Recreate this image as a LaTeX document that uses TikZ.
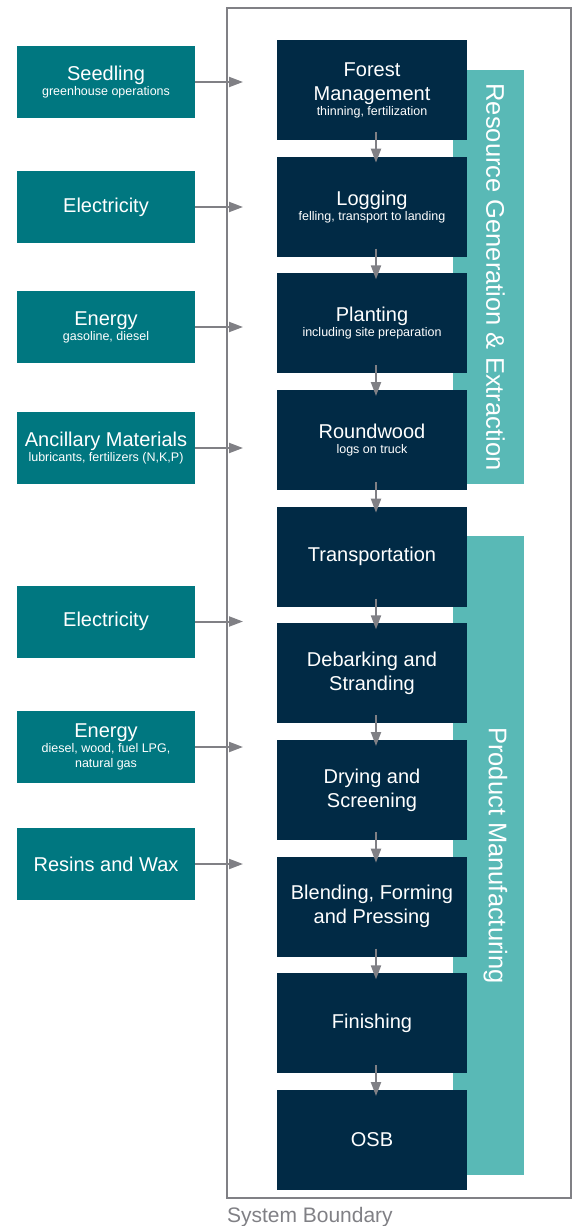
\documentclass[tikz,border=0pt]{standalone}
\usepackage{fontspec}
\setmainfont{Liberation Sans}
\usetikzlibrary{positioning,arrows.meta}

\definecolor{navy}{RGB}{1,42,69}
\definecolor{tealbox}{RGB}{0,119,128}
\definecolor{tealband}{RGB}{89,185,182}
\definecolor{linegray}{RGB}{128,128,133}

\newcommand{\subtxt}[1]{{\fontsize{12.5}{15}\selectfont #1}}

\begin{document}
\begin{tikzpicture}
  [x=1pt, y=-1pt, node distance=16.67pt,
   every node/.style={inner sep=0pt, outer sep=0pt, align=center, text=white,
                      font=\fontsize{20}{24}\selectfont},
   stage/.style={fill=navy, minimum width=190pt, minimum height=100pt},
   input/.style={fill=tealbox, minimum width=178pt, minimum height=72pt},
   band/.style={fill=tealband, minimum width=71pt},
   bandtext/.style={rotate=-90, font=\fontsize{25.5}{30}\selectfont},
   flow/.style={draw=linegray, line width=2pt, -{Triangle[length=14pt,width=10pt]}}]
  \useasboundingbox (0,0) rectangle (576,1226);

  % system boundary
  \node[draw=linegray, line width=2.5pt, minimum width=344pt, minimum height=1190pt] (sysbnd) at (399,603) {};
  \node[anchor=base west, text=linegray, font=\fontsize{21}{25}\selectfont] (sysbndlabel)
    at ([yshift=-24pt]sysbnd.south west) {System Boundary};

  % phase bands
  \node[band, minimum height=414pt] (rgeband) at (488.5,277) {};
  \node[band, minimum height=639pt] (pmband) at (488.5,855.5) {};
  \node[bandtext] (rgetext) at (495.5,277) {Resource Generation \& Extraction};
  \node[bandtext] (pmtext) at (495.5,855.5) {Product Manufacturing};

  % process chain
  \node[stage] (forest) at (372,90) {Forest\\Management\\[-9pt]\subtxt{thinning, fertilization}};
  \node[stage, below=of forest] (logging) {Logging\\[-9pt]\subtxt{felling, transport to landing}};
  \node[stage, below=of logging] (planting) {Planting\\[-9pt]\subtxt{including site preparation}};
  \node[stage, below=of planting] (roundwood) {Roundwood\\[-9pt]\subtxt{logs on truck}};
  \node[stage, below=of roundwood] (transport) {Transportation};
  \node[stage, below=of transport] (debarking) {Debarking and\\Stranding};
  \node[stage, below=of debarking] (drying) {Drying and\\Screening};
  \node[stage, below=of drying] (blending) {Blending, Forming\\and Pressing};
  \node[stage, below=of blending] (finishing) {Finishing};
  \node[stage, below=of finishing] (osb) {OSB};

  % inputs
  \node[input] (seedling) at (106,82) {Seedling\\[-9pt]\subtxt{greenhouse operations}};
  \node[input] (electricity1) at (106,207) {Electricity};
  \node[input] (energy1) at (106,327) {Energy\\[-9pt]\subtxt{gasoline, diesel}};
  \node[input] (ancillary) at (106,448) {Ancillary Materials\\[-9pt]\subtxt{lubricants, fertilizers (N,K,P)}};
  \node[input] (electricity2) at (106,621.5) {Electricity};
  \node[input] (energy2) at (106,747) {Energy\\[-9pt]\subtxt{diesel, wood, fuel LPG,}\\[-9.5pt]\subtxt{natural gas}};
  \node[input] (resins) at (106,864) {Resins and Wax};

  \coordinate (intip) at (243,0);
  \foreach \n in {seedling, electricity1, energy1, ancillary, electricity2, energy2, resins}
    \draw[flow] (\n.east) -- (\n.east -| intip);

  \foreach \a/\b in {forest/logging, logging/planting, planting/roundwood, roundwood/transport,
                     transport/debarking, debarking/drying, drying/blending,
                     blending/finishing, finishing/osb}
    \draw[flow] ([xshift=4pt, yshift=8pt]\a.south) -- ([xshift=4pt, yshift=-6pt]\b.north);
\end{tikzpicture}
\end{document}
